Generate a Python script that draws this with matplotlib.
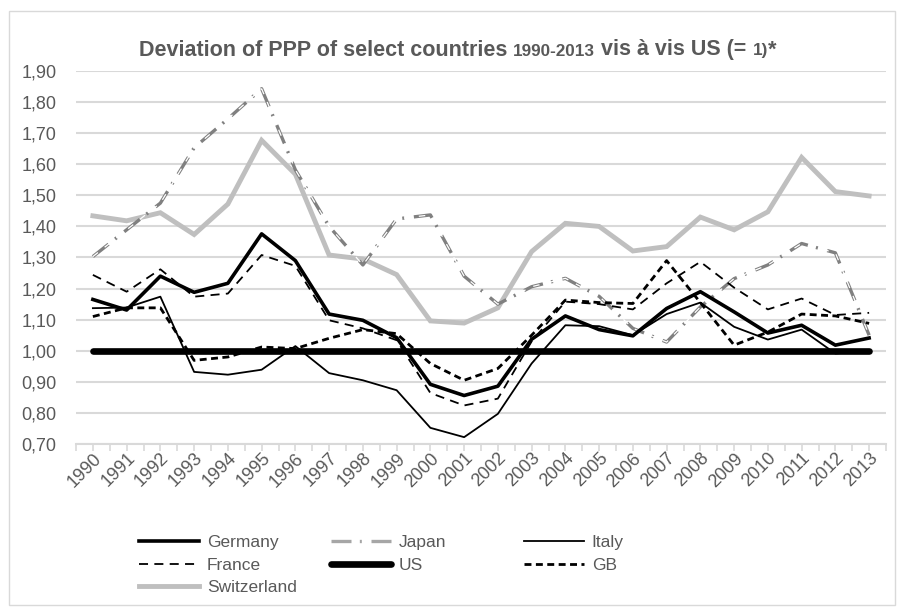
import matplotlib
matplotlib.use("Agg")
import matplotlib.pyplot as plt
import matplotlib.transforms as mtransforms
from matplotlib.patches import Rectangle
from matplotlib.lines import Line2D
import numpy as np

years = [str(y) for y in range(1990, 2014)]
germany = [1.165, 1.131, 1.240, 1.188, 1.217, 1.376, 1.290, 1.118, 1.098, 1.042, 0.892, 0.856,
           0.886, 1.037, 1.112, 1.068, 1.048, 1.136, 1.190, 1.125, 1.057, 1.082, 1.018, 1.041]
japan = [1.303, 1.389, 1.475, 1.653, 1.746, 1.843, 1.582, 1.400, 1.276, 1.424, 1.437, 1.240,
         1.150, 1.206, 1.233, 1.175, 1.072, 1.028, 1.141, 1.232, 1.276, 1.345, 1.315, 1.050]
italy = [1.137, 1.139, 1.174, 0.932, 0.923, 0.939, 1.015, 0.928, 0.905, 0.873, 0.752, 0.722,
         0.797, 0.959, 1.082, 1.079, 1.050, 1.118, 1.155, 1.077, 1.036, 1.068, 0.991, 1.000]
france = [1.244, 1.190, 1.262, 1.174, 1.184, 1.308, 1.273, 1.098, 1.072, 1.034, 0.864, 0.824,
          0.846, 1.030, 1.158, 1.150, 1.133, 1.217, 1.286, 1.203, 1.133, 1.168, 1.115, 1.122]
us = [1.0] * 24
gb = [1.110, 1.138, 1.138, 0.969, 0.980, 1.012, 1.007, 1.040, 1.068, 1.055, 0.959, 0.905,
      0.943, 1.050, 1.163, 1.155, 1.152, 1.290, 1.155, 1.018, 1.060, 1.118, 1.112, 1.088]
switzerland = [1.434, 1.418, 1.444, 1.374, 1.472, 1.677, 1.568, 1.308, 1.295, 1.245, 1.096, 1.089,
               1.138, 1.319, 1.410, 1.400, 1.321, 1.335, 1.430, 1.389, 1.447, 1.622, 1.512, 1.498]
yticks = [0.70, 0.80, 0.90, 1.00, 1.10, 1.20, 1.30, 1.40, 1.50, 1.60, 1.70, 1.80, 1.90]

plt.rcParams['font.family'] = ['Liberation Sans', 'DejaVu Sans']
TXT = '#595959'
GRID = '#d9d9d9'
FS = 12.5

fig = plt.figure(figsize=(9.01, 6.12), dpi=100)
fig.patches.append(Rectangle((9/901, 1-605/612), (895-9)/901, (605-10.5)/612,
                             transform=fig.transFigure, fill=False, edgecolor=GRID, lw=1.0))
ax = fig.add_axes([76/901, 1-444/612, (886-76)/901, (444-71)/612])
x = np.arange(len(years))

ax.set_xlim(-0.5, len(years) - 0.5)
ax.set_ylim(0.70, 1.90)
ax.set_yticks(yticks)
ax.set_yticklabels([f"{v:.2f}".replace('.', ',') for v in yticks], color=TXT, fontsize=13)
ax.yaxis.grid(True, color=GRID, lw=1.5)
ax.set_axisbelow(True)
for s in ['left', 'right', 'top']:
    ax.spines[s].set_visible(False)
ax.spines['bottom'].set_color(GRID)
ax.spines['bottom'].set_linewidth(1.5)
ax.tick_params(axis='y', length=0, pad=14)
ax.set_xticks(x)
ax.set_xticks(np.arange(-0.5, len(years), 1.0), minor=True)
ax.tick_params(axis='x', which='both', length=5, color=GRID, width=1.2)
ax.set_xticklabels(years, rotation=45, ha='right', va='center', rotation_mode='anchor',
                   color=TXT, fontsize=13)
offset = mtransforms.ScaledTranslation(6/100, 0, fig.dpi_scale_trans)
for lab in ax.get_xticklabels():
    lab.set_transform(lab.get_transform() + offset)

# series
h_sw, = ax.plot(x, switzerland, color='#bfbfbf', lw=3.5, solid_joinstyle='miter', label='Switzerland')
h_jp, = ax.plot(x, japan, color='#808080', lw=2.4, dashes=[6, 2.5, 0.6, 2.9], label='Japan')
ax.plot(x, japan, color='white', lw=0.9, dashes=[5.2, 6.8], dash_joinstyle='miter')
h_it, = ax.plot(x, italy, color='black', lw=1.3, label='Italy')
h_fr, = ax.plot(x, france, color='black', lw=1.3, dashes=[5, 3.5], label='France')
h_gb, = ax.plot(x, gb, color='black', lw=2.0, dashes=[2.5, 1.6], label='GB')
h_de, = ax.plot(x, germany, color='black', lw=2.6, label='Germany')
h_us, = ax.plot(x, us, color='black', lw=4.8, solid_capstyle='round', label='US')

# title with mixed sizes
fig.canvas.draw()
renderer = fig.canvas.get_renderer()
BIG, SMALL = 15.5, 12.3
pieces = [("Deviation of PPP of select countries ", BIG),
          ("1990-2013", SMALL),
          (" vis à vis US (= ", BIG),
          ("1)", SMALL),
          ("*", BIG)]
texts = []
total = 0
for s, fs in pieces:
    t = fig.text(0, 0, s, fontsize=fs, fontweight='bold', color=TXT, va='baseline', ha='left')
    w = t.get_window_extent(renderer).width
    texts.append((t, w))
    total += w
cx = 457.5
start = cx - total / 2
base_y = 612 - 55.5
for t, w in texts:
    t.set_position((start / 901, base_y / 612))
    start += w

# legend, three equal-width columns
leg_kw = dict(frameon=False, fontsize=FS, handlelength=3.45, handletextpad=0.45,
              labelspacing=0.42, borderaxespad=0, borderpad=0, labelcolor=TXT)
col_x = [139, 331, 524]
cols = [[h_de, h_fr, h_sw], [h_jp, h_us], [h_it, h_gb]]
for cxp, hs in zip(col_x, cols):
    hh = []
    for h in hs:
        if h is h_jp:
            hh.append(Line2D([], [], color='#a6a6a6', lw=2.4, dashes=[6, 2.5, 0.6, 2.9]))
        else:
            hh.append(h)
    fig.legend(hh, [h.get_label() for h in hs], loc='upper left',
               bbox_to_anchor=(cxp/901, 1-535/612), **leg_kw)

fig.savefig('out.png', dpi=100)
